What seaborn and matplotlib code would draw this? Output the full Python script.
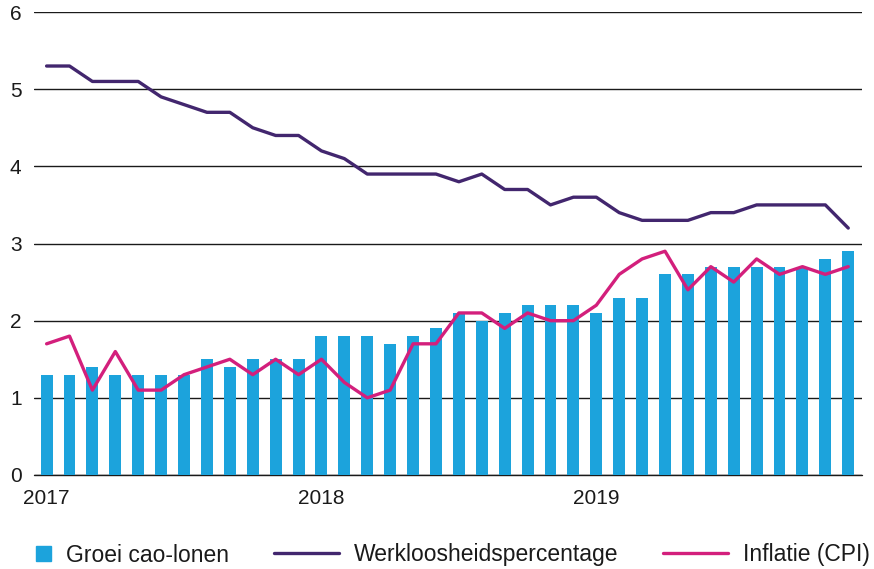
import matplotlib
matplotlib.use("Agg")
import matplotlib.pyplot as plt
from matplotlib.legend_handler import HandlerPatch
from matplotlib.patches import Rectangle, Patch
from matplotlib.lines import Line2D
import seaborn as sns
import pandas as pd

# monthly data, jan 2017 - dec 2019
months = list(range(36))
year_ticks = [0, 12, 24]
year_labels = ["2017", "2018", "2019"]

cao_lonen = [1.3, 1.3, 1.4, 1.3, 1.3, 1.3, 1.3, 1.5, 1.4, 1.5, 1.5, 1.5,
             1.8, 1.8, 1.8, 1.7, 1.8, 1.9, 2.1, 2.0, 2.1, 2.2, 2.2, 2.2,
             2.1, 2.3, 2.3, 2.6, 2.6, 2.7, 2.7, 2.7, 2.7, 2.7, 2.8, 2.9]
werkloosheid = [5.3, 5.3, 5.1, 5.1, 5.1, 4.9, 4.8, 4.7, 4.7, 4.5, 4.4, 4.4,
                4.2, 4.1, 3.9, 3.9, 3.9, 3.9, 3.8, 3.9, 3.7, 3.7, 3.5, 3.6,
                3.6, 3.4, 3.3, 3.3, 3.3, 3.4, 3.4, 3.5, 3.5, 3.5, 3.5, 3.2]
inflatie = [1.7, 1.8, 1.1, 1.6, 1.1, 1.1, 1.3, 1.4, 1.5, 1.3, 1.5, 1.3,
            1.5, 1.2, 1.0, 1.1, 1.7, 1.7, 2.1, 2.1, 1.9, 2.1, 2.0, 2.0,
            2.2, 2.6, 2.8, 2.9, 2.4, 2.7, 2.5, 2.8, 2.6, 2.7, 2.6, 2.7]

df = pd.DataFrame({"maand": months, "cao": cao_lonen,
                   "werkloosheid": werkloosheid, "inflatie": inflatie})

blue = "#1ca3dc"
purple = "#42266e"
magenta = "#d31f7c"

sns.set_style("white")
plt.rcParams["font.family"] = ["Liberation Sans", "DejaVu Sans"]
plt.rcParams["font.size"] = 15

fig = plt.figure(figsize=(8.74, 5.69), dpi=100)
ax = fig.add_axes([34 / 874, 1 - 475 / 569, (862 - 34) / 874, (475 - 12) / 569])

sns.barplot(data=df, x="maand", y="cao", color=blue, saturation=1,
            width=0.52, linewidth=0, ax=ax, zorder=2)
sns.lineplot(data=df, x="maand", y="werkloosheid", color=purple,
             linewidth=2.4, ax=ax, zorder=3)
sns.lineplot(data=df, x="maand", y="inflatie", color=magenta,
             linewidth=2.4, ax=ax, zorder=4)

ax.set_xlim(-0.55, 35.6)
ax.set_ylim(0, 6)
ax.set_yticks(range(7))
ax.set_xticks(year_ticks)
ax.set_xticklabels(year_labels)
ax.set_xlabel("")
ax.set_ylabel("")
ax.grid(axis="y", color="#1a1a1a", linewidth=1.0, zorder=0)
ax.set_axisbelow(True)
ax.axhline(0, color="#1a1a1a", linewidth=1.0, zorder=1, clip_on=False)
for s in ax.spines.values():
    s.set_visible(False)
ax.tick_params(axis="both", length=0, labelsize=15, colors="#1a1a1a")
ax.tick_params(axis="x", pad=10)
ax.tick_params(axis="y", pad=9)


def square_patch(legend, orig_handle, xdescent, ydescent, width, height, fontsize):
    side = 15 * 72 / 100
    return Rectangle((width - side - xdescent, height / 2 - side / 2 - ydescent),
                     side, side)


handles = [Patch(color=blue), Line2D([], [], color=purple, linewidth=2.4),
           Line2D([], [], color=magenta, linewidth=2.4)]
labels = ["Groei cao-lonen", "Werkloosheidspercentage", "Inflatie (CPI)"]
fig.legend(handles, labels, loc="center left", bbox_to_anchor=(-14 / 874, 1 - 555 / 569),
           ncol=3, frameon=False, borderpad=0, borderaxespad=0,
           handlelength=2.84, handletextpad=0.65, columnspacing=1.95,
           fontsize=16.5, labelcolor="#1a1a1a",
           handler_map={Patch: HandlerPatch(patch_func=square_patch)})

fig.savefig("out.png", dpi=100)
